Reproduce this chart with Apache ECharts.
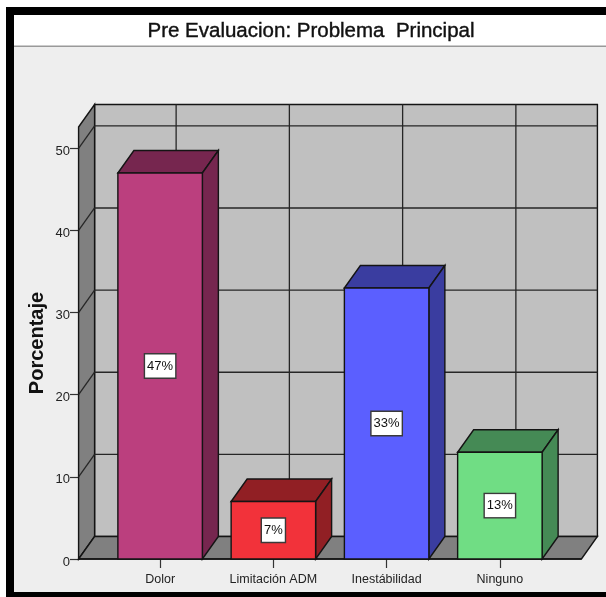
<!DOCTYPE html>
<html>
<head>
<meta charset="utf-8">
<style>html,body{margin:0;padding:0;background:#fff}#chart{width:606px;height:597px}</style>
<script src="https://cdn.jsdelivr.net/npm/echarts@6/dist/echarts.min.js"></script>
</head>
<body>
<div id="chart"></div>
<script>
// Share of patients by main complaint
var categories = ['Dolor', 'Limitación ADM', 'Inestábilidad', 'Ninguno'];
var percentages = [47, 7, 33, 13];
var yTicks = [0, 10, 20, 30, 40, 50];
var frontColors = ['#bb3f7e', '#f2323a', '#5b5fff', '#70dd84'];
var shadeColors = ['#76264f', '#911f24', '#3a3da0', '#458a55'];

// Oblique projection of the box depth
var DX = 16, DY = 22.5;
var INK = '#141414';
var FONT = '"Liberation Sans", Arial, sans-serif';

function poly(points, fill, lineWidth, stroke) {
  return {
    type: 'polygon',
    shape: { points: points },
    style: { fill: fill, stroke: stroke || INK, lineWidth: lineWidth === undefined ? 1.4 : lineWidth, lineJoin: 'miter' }
  };
}
function seg(x1, y1, x2, y2, width, color) {
  return {
    type: 'line',
    shape: { x1: x1, y1: y1, x2: x2, y2: y2 },
    style: { stroke: color || '#262626', lineWidth: width || 1.3 }
  };
}

// Back wall, side wall, floor and the grid lines printed on them
function renderRoom(params, api) {
  var cs = params.coordSys;
  var band = api.size([1, 0])[0];
  var pad = band * 0.22;
  var xL = cs.x - pad, xR = cs.x + cs.width + pad;
  var yB = cs.y + cs.height, yT = cs.y;
  var kids = [
    poly([[xL + DX, yT - DY], [xR + DX, yT - DY], [xR + DX, yB - DY], [xL + DX, yB - DY]], '#c0c0c0'),
    poly([[xL, yT], [xL + DX, yT - DY], [xL + DX, yB - DY], [xL, yB]], '#808080'),
    poly([[xL, yB], [xL + DX, yB - DY], [xR + DX, yB - DY], [xR, yB]], '#808080')
  ];
  categories.forEach(function (c, i) {
    var x = api.coord([i, 0])[0] + DX;
    kids.push(seg(x, yT - DY, x, yB - DY));
  });
  yTicks.forEach(function (t) {
    if (t === 0) { return; }
    var y = api.coord([0, t])[1];
    kids.push(seg(xL, y, xL + DX, y - DY));
    kids.push(seg(xL + DX, y - DY, xR + DX, y - DY));
  });
  kids.push(seg(xL, yB, xR, yB, 1.6, INK));
  return { type: 'group', children: kids };
}

// One extruded bar with its boxed percentage
function renderBar(params, api) {
  var i = api.value(0), v = api.value(1);
  var top = api.coord([i, v]);
  var base = api.coord([i, 0]);
  var half = api.size([1, 0])[0] * 0.373;
  var l = top[0] - half, r = top[0] + half;
  var t = top[1], b = base[1];
  return {
    type: 'group',
    children: [
      poly([[l, t], [l + DX, t - DY], [r + DX, t - DY], [r, t]], shadeColors[i]),
      poly([[r, t], [r + DX, t - DY], [r + DX, b - DY], [r, b]], shadeColors[i]),
      poly([[l, t], [r, t], [r, b], [l, b]], frontColors[i]),
      {
        type: 'text',
        x: top[0], y: (t + b) / 2,
        style: {
          text: v + '%',
          font: '13px ' + FONT,
          fill: '#111',
          align: 'center',
          verticalAlign: 'middle',
          backgroundColor: '#ffffff',
          borderColor: '#3a3a3a',
          borderWidth: 1.4,
          padding: [5, 2, 5, 2]
        }
      }
    ]
  };
}

var chart = echarts.init(document.getElementById('chart'), null, { renderer: 'canvas' });
chart.setOption({
  animation: false,
  backgroundColor: '#ffffff',
  graphic: [
    { type: 'rect', z: -10, shape: { x: 6, y: 7, width: 600, height: 590 }, style: { fill: '#000000' } },
    { type: 'rect', z: -9, shape: { x: 14, y: 15, width: 592, height: 577 }, style: { fill: '#eeeeee' } },
    { type: 'rect', z: -8, shape: { x: 14, y: 15, width: 592, height: 31 }, style: { fill: '#ffffff' } },
    { type: 'rect', z: -8, shape: { x: 14, y: 45.5, width: 592, height: 1.5 }, style: { fill: '#999999' } }
  ],
  title: {
    text: 'Pre Evaluacion: Problema  Principal',
    left: 311,
    top: 21,
    padding: 0,
    textAlign: 'center',
    textStyle: { fontFamily: FONT, fontSize: 20.5, fontWeight: 'normal', color: '#111111', textBorderColor: '#111111', textBorderWidth: 0.4 }
  },
  grid: { left: 103.5, right: 49.5, top: 127, bottom: 38 },
  xAxis: {
    type: 'category',
    data: categories,
    axisLine: { show: false },
    axisTick: { show: true, alignWithLabel: true, length: 9, lineStyle: { color: '#333333', width: 1.2 } },
    axisLabel: { margin: 14, fontFamily: FONT, fontSize: 12.5, color: '#222222', interval: 0 }
  },
  yAxis: {
    type: 'value',
    min: 0,
    max: 52.6,
    offset: 24.5,
    name: 'Porcentaje',
    nameLocation: 'middle',
    nameGap: 32,
    nameMoveOverlap: false,
    nameTextStyle: { fontFamily: FONT, fontSize: 20, fontWeight: 'bold', color: '#111111' },
    splitLine: { show: false },
    axisLine: { show: true, lineStyle: { color: INK, width: 1.4 } },
    axisTick: { show: true, length: 9, customValues: yTicks, lineStyle: { color: '#333333', width: 1.2 } },
    axisLabel: { margin: 9, customValues: yTicks, verticalAlign: 'top', padding: [-3.5, 0, 0, 0], fontFamily: FONT, fontSize: 13, color: '#222222' }
  },
  series: [
    { type: 'custom', z: 1, silent: true, data: [[0, 0]], renderItem: renderRoom, encode: { x: 0, y: 1 } },
    {
      type: 'custom', z: 2, silent: true,
      data: percentages.map(function (p, i) { return [i, p]; }),
      renderItem: renderBar,
      encode: { x: 0, y: 1 }
    }
  ]
});
</script>
</body>
</html>
